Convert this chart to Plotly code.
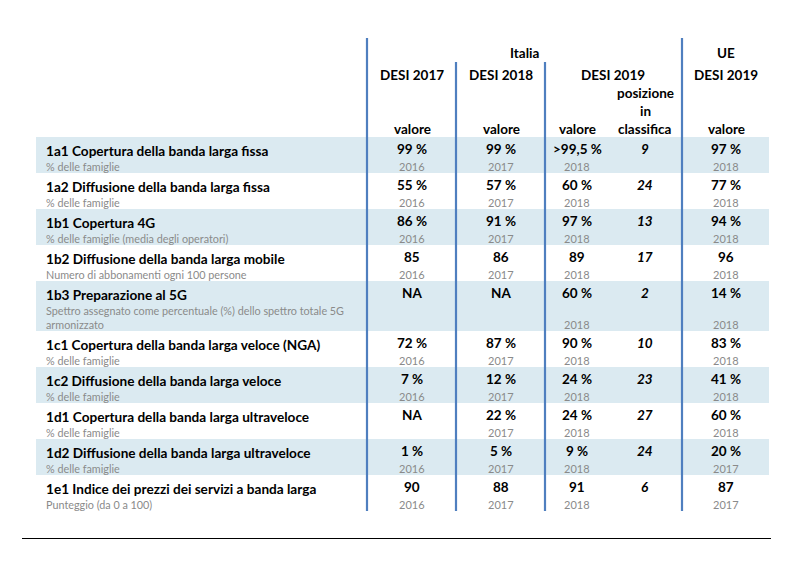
import plotly.graph_objects as go

# ---------------- data ----------------
titles = [
    "1a1 Copertura della banda larga fissa",
    "1a2 Diffusione della banda larga fissa",
    "1b1 Copertura 4G",
    "1b2 Diffusione della banda larga mobile",
    "1b3 Preparazione al 5G",
    "1c1 Copertura della banda larga veloce (NGA)",
    "1c2 Diffusione della banda larga veloce",
    "1d1 Copertura della banda larga ultraveloce",
    "1d2 Diffusione della banda larga ultraveloce",
    "1e1 Indice dei prezzi dei servizi a banda larga",
]
subtitles = [
    "% delle famiglie",
    "% delle famiglie",
    "% delle famiglie (media degli operatori)",
    "Numero di abbonamenti ogni 100 persone",
    "Spettro assegnato come percentuale (%) dello spettro totale 5G<br>armonizzato",
    "% delle famiglie",
    "% delle famiglie",
    "% delle famiglie",
    "% delle famiglie",
    "Punteggio (da 0 a 100)",
]
desi2017_val = ["99 %", "55 %", "86 %", "85", "NA", "72 %", "7 %", "NA", "1 %", "90"]
desi2017_year = ["2016", "2016", "2016", "2016", "", "2016", "2016", "", "2016", "2016"]
desi2018_val = ["99 %", "57 %", "91 %", "86", "NA", "87 %", "12 %", "22 %", "5 %", "88"]
desi2018_year = ["2017", "2017", "2017", "2017", "", "2017", "2017", "2017", "2017", "2017"]
desi2019_val = [">99,5 %", "60 %", "97 %", "89", "60 %", "90 %", "24 %", "24 %", "9 %", "91"]
desi2019_year = ["2018"] * 10
desi2019_rank = ["9", "24", "13", "17", "2", "10", "23", "27", "24", "6"]
ue2019_val = ["97 %", "77 %", "94 %", "96", "14 %", "83 %", "41 %", "60 %", "20 %", "87"]
ue2019_year = ["2018", "2018", "2018", "2018", "2018", "2018", "2018", "2018", "2017", "2017"]

header_group = ["Italia", "UE"]
header_cols = ["DESI 2017", "DESI 2018", "DESI 2019", "DESI 2019"]
header_sub = ["valore", "valore", "valore", "posizione<br>in<br>classifica", "valore"]

# ---------------- styling / layout ----------------
FONT = "Lato, Carlito, Calibri, sans-serif"
BLUE = "#4f7fbf"
SHADE = "#dbeaf1"
GREY = "#8a8a8a"

W, H = 811, 571
OFF = 8  # default page body margin
col_x = [412, 501, 577, 645, 726]     # column centers (window px)
label_x = 44
vlines = [(367, 38), (456, 62), (545, 62), (682, 38)]
table_top = 137
row_h_single = 36
row_h_double = 50
row_left, row_right = 36, 769

fig = go.Figure()
fig.add_trace(go.Scatter(x=[OFF, W - OFF], y=[OFF, H - OFF], mode="markers",
                         marker=dict(opacity=0), hoverinfo="skip", showlegend=False))

shapes = []
annotations = []


def txt(x, y, text, size=13, bold=True, color="black", italic=False, xanchor="center"):
    t = text
    if bold:
        t = "<b>" + t + "</b>"
    if italic:
        t = "<i>" + t + "</i>"
    annotations.append(dict(x=x, y=y, xref="x", yref="y", text=t, showarrow=False,
                            xanchor=xanchor, yanchor="middle",
                            font=dict(family=FONT, size=size, color=color)))


# rows
top = table_top
for i in range(len(titles)):
    two_line = "<br>" in subtitles[i]
    h = row_h_double if two_line else row_h_single
    if i % 2 == 0:
        shapes.append(dict(type="rect", xref="x", yref="y", x0=row_left, x1=row_right,
                           y0=top, y1=top + h, fillcolor=SHADE, line=dict(width=0),
                           layer="below"))
    txt(label_x, top + 13.5, titles[i], size=13.6, xanchor="left")
    if two_line:
        lines = subtitles[i].split("<br>")
        for k, ln in enumerate(lines):
            txt(label_x, top + 29 + k * 14, ln, size=10.8, bold=False, color=GREY, xanchor="left")
    else:
        txt(label_x, top + 29.5, subtitles[i], size=10.8, bold=False, color=GREY, xanchor="left")
    year_y = top + h - 6.5
    vals = [desi2017_val[i], desi2018_val[i], desi2019_val[i], None, ue2019_val[i]]
    years = [desi2017_year[i], desi2018_year[i], desi2019_year[i], None, ue2019_year[i]]
    for c in range(5):
        if c == 3:
            txt(col_x[c], top + 11.5, desi2019_rank[i], size=13.5, italic=True)
            continue
        txt(col_x[c], top + 11.5, vals[c], size=13.5)
        if years[c]:
            txt(col_x[c], year_y, years[c], size=11, bold=False, color=GREY)
    top += h

table_bottom = top

# vertical lines
for vx, vtop in vlines:
    shapes.append(dict(type="line", xref="x", yref="y", x0=vx, x1=vx, y0=vtop, y1=table_bottom,
                       line=dict(color=BLUE, width=2.2)))

# bottom rule
shapes.append(dict(type="line", xref="x", yref="y", x0=22, x1=771, y0=538.5, y1=538.5,
                   line=dict(color="black", width=1)))

# header
txt(524, 53, header_group[0], size=13.5)
txt(col_x[4], 53, header_group[1], size=13.5)
txt(col_x[0], 75, header_cols[0], size=13.5)
txt(col_x[1], 75, header_cols[1], size=13.5)
txt(613, 75, header_cols[2], size=13.5)
txt(col_x[4], 75, header_cols[3], size=13.5)
for c in range(5):
    if c == 3:
        for k, ln in enumerate(header_sub[c].split("<br>")):
            txt(col_x[c], 93 + k * 18, ln, size=13.5)
    else:
        txt(col_x[c], 129, header_sub[c], size=13.5)

fig.update_layout(
    width=W - 2 * OFF, height=H - 2 * OFF,
    margin=dict(l=0, r=0, t=0, b=0),
    paper_bgcolor="white", plot_bgcolor="white",
    xaxis=dict(range=[OFF, W - OFF], visible=False, fixedrange=True),
    yaxis=dict(range=[H - OFF, OFF], visible=False, fixedrange=True),
    shapes=shapes, annotations=annotations,
    showlegend=False,
)

fig.write_html("out.html")
